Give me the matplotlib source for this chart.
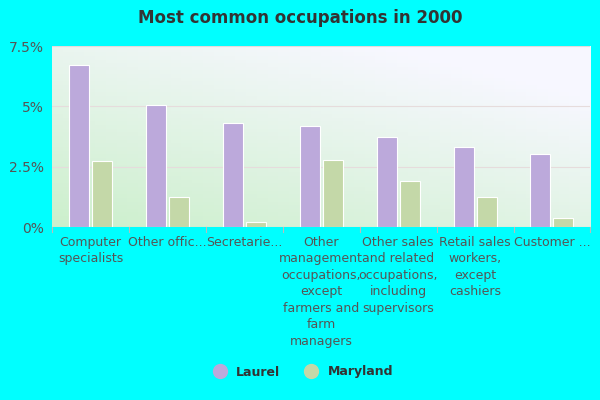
import matplotlib
matplotlib.use("Agg")
import matplotlib.pyplot as plt
from matplotlib.lines import Line2D
import numpy as np

categories = ["Computer\nspecialists", "Other offic...", "Secretarie...",
              "Other\nmanagement\noccupations,\nexcept\nfarmers and\nfarm\nmanagers",
              "Other sales\nand related\noccupations,\nincluding\nsupervisors",
              "Retail sales\nworkers,\nexcept\ncashiers", "Customer ..."]
laurel = [6.7, 5.05, 4.3, 4.2, 3.75, 3.3, 3.05]
maryland = [2.75, 1.25, 0.2, 2.8, 1.9, 1.25, 0.4]
yticks = [0, 2.5, 5, 7.5]
yticklabels = ["0%", "2.5%", "5%", "7.5%"]

fig = plt.figure(figsize=(6, 4), dpi=100, facecolor="#00FFFF")
ax = fig.add_axes([0.087, 0.432, 0.897, 0.453])
ax.set_facecolor("none")
xx, yy = np.meshgrid(np.linspace(0, 1, 50), np.linspace(0, 1, 50))
t = np.clip((xx * 0.5 + (1 - yy) * 0.7), 0, 1)
c0 = np.array([0.80, 0.94, 0.80]); c1 = np.array([0.97, 0.97, 1.0])
img = c0[None, None, :] * (1 - t[..., None]) + c1[None, None, :] * t[..., None]
ax.imshow(img, extent=[-0.5, 6.5, 0, 7.5], aspect="auto", zorder=0, origin="upper")

x = np.arange(len(categories))
w = 0.26
ax.bar(x - 0.15, laurel, w, color="#BCA9DB", edgecolor="white", linewidth=0.8, zorder=3)
ax.bar(x + 0.15, maryland, w, color="#C4D8A8", edgecolor="white", linewidth=0.8, zorder=3)
ax.set_xlim(-0.5, 6.5)
ax.set_ylim(0, 7.5)
ax.set_yticks(yticks)
ax.set_yticklabels(yticklabels, color="#555555", fontsize=10)
ax.set_xticks(x)
ax.set_xticklabels(categories, color="#555555", fontsize=9, linespacing=1.35)
for v in yticks[1:]:
    ax.axhline(v, color="#E6DCDC", lw=0.8, zorder=1)
for b in np.arange(-0.5, 6.6, 1):
    ax.plot([b, b], [0, -0.2], color="#BBBBBB", lw=0.8, clip_on=False)
for s in ax.spines.values():
    s.set_visible(False)
ax.axhline(0, color="#BBBBBB", lw=0.8, zorder=4)
ax.tick_params(length=0, pad=6)
fig.text(0.5, 0.955, "Most common occupations in 2000", ha="center", va="center",
         fontsize=12, fontweight="bold", color="#333333")
handles = [Line2D([], [], marker="o", ls="none", markersize=10, color="#BCA9DB"),
           Line2D([], [], marker="o", ls="none", markersize=10, color="#C4D8A8")]
leg = fig.legend(handles, ["Laurel", "Maryland"], loc="center", bbox_to_anchor=(0.5, 0.07),
                 ncol=2, frameon=False, handletextpad=0.3, columnspacing=1.5, fontsize=9)
for txt in leg.get_texts():
    txt.set_fontweight("bold"); txt.set_color("#333333")
fig.savefig("out.png", dpi=100, facecolor=fig.get_facecolor())
